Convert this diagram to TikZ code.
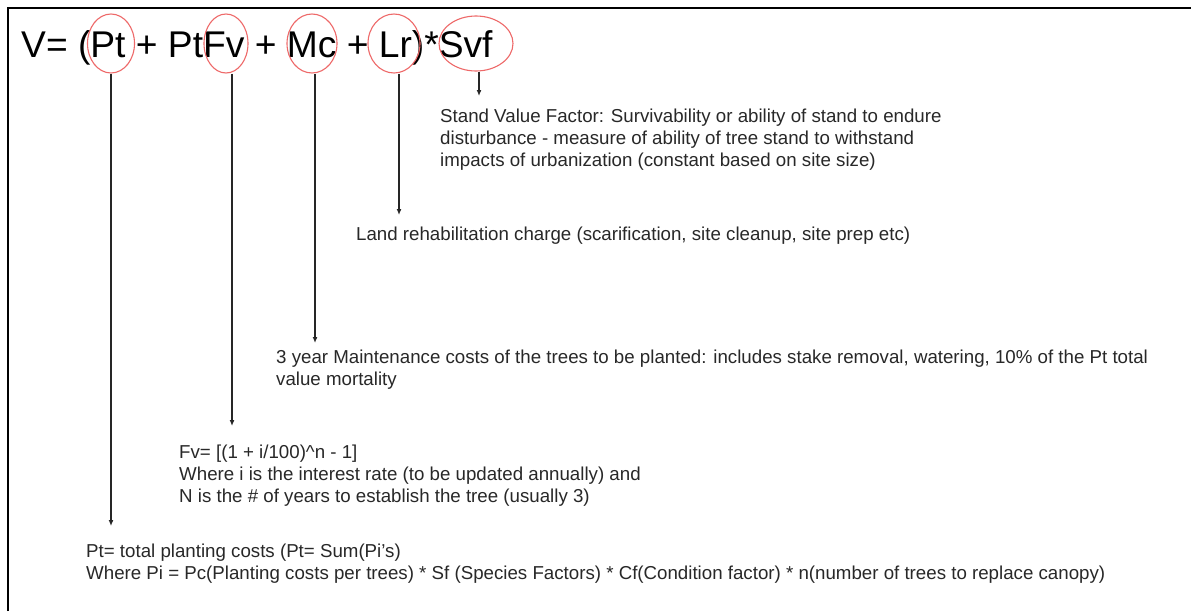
\documentclass[tikz,border=0pt]{standalone}
\usepackage{fontspec}
\setmainfont{Liberation Sans}
\usetikzlibrary{shapes.geometric,arrows.meta}
\definecolor{ovalred}{RGB}{238,105,105}
\definecolor{txt}{RGB}{40,40,40}
\begin{document}
\begin{tikzpicture}[x=1pt,y=-1pt,
  oval/.style={draw=ovalred, line width=1.1pt, ellipse, inner sep=0pt, minimum height=59pt},
  desc/.style={anchor=north west, inner sep=0pt, align=left, text=txt, font=\fontsize{18.7}{22.4}\selectfont},
  arr/.style={draw=black!85, line width=1.2pt, -{Latex[length=6pt,width=5pt]}}]
\useasboundingbox (0,0) rectangle (1191,611);
\fill[white] (0,0) rectangle (1191,611);
\draw[line width=2.2pt] (8.3,611) -- (8.3,7.7) -- (1191,7.7);

\node[anchor=base west, inner sep=0pt, font=\fontsize{37.2}{44}\selectfont] (formula) at (21,57) {V= (Pt + PtFv + Mc + Lr)*Svf};

\node[oval, minimum width=47pt] (ePt) at (111,43.5) {};
\node[oval, minimum width=44pt] (eFv) at (226,43.5) {};
\node[oval, minimum width=50pt] (eMc) at (312,43.5) {};
\node[oval, minimum width=52pt] (eLr) at (394,43.5) {};
\node[oval, minimum width=74pt, minimum height=55pt] (eSvf) at (476,43.5) {};

\node[desc] (tSvf) at (440,106.3) {\strut Stand Value Factor: Survivability or ability of stand to endure\\disturbance - measure of ability of tree stand to withstand\\impacts of urbanization (constant based on site size)};
\node[desc] (tLr) at (356,224.3) {\strut Land rehabilitation charge (scarification, site cleanup, site prep etc)};
\node[desc] (tMc) at (276,347.3) {\strut 3 year Maintenance costs of the trees to be planted: includes stake removal, watering, 10\% of the Pt total\\value mortality};
\node[desc] (tFv) at (179,442.3) {\strut Fv= [(1 + i/100)\textasciicircum n - 1]\\Where i is the interest rate (to be updated annually) and\\N is the \# of years to establish the tree (usually 3)};
\node[desc] (tPt) at (86,541.3) {\strut Pt= total planting costs (Pt= Sum(Pi’s)\\Where Pi = Pc(Planting costs per trees) * Sf (Species Factors) * Cf(Condition factor) * n(number of trees to replace canopy)};

\coordinate (tipPt) at (111,526);
\coordinate (tipFv) at (232,426);
\coordinate (tipMc) at (315,343);
\coordinate (tipLr) at (399,215);
\coordinate (tipSvf) at (479,96);

\draw[arr] (ePt.south) -- (tipPt);
\draw[arr] ([xshift=6pt]eFv.south) -- (tipFv);
\draw[arr] ([xshift=3pt]eMc.south) -- (tipMc);
\draw[arr] ([xshift=5pt]eLr.south) -- (tipLr);
\draw[arr] ([xshift=3pt]eSvf.south) -- (tipSvf);
\end{tikzpicture}
\end{document}
